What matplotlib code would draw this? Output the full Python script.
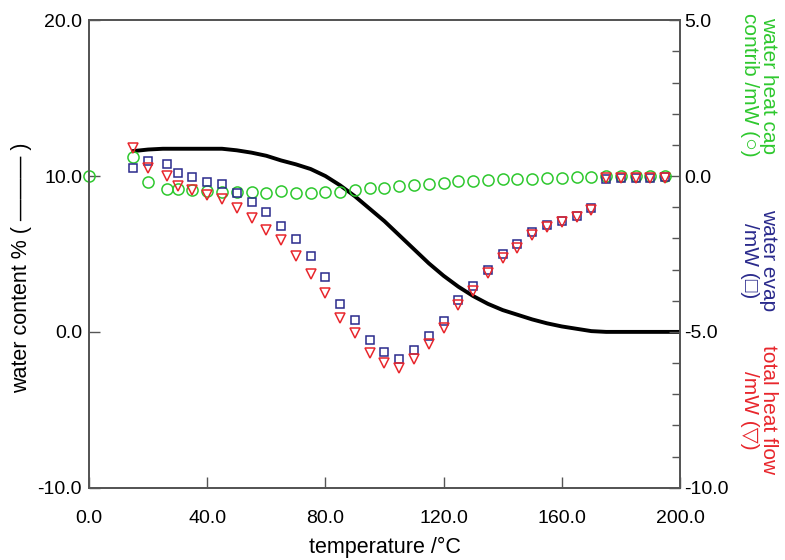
import matplotlib.pyplot as plt
from matplotlib.ticker import MultipleLocator

plt.rcParams['font.family'] = ['Liberation Sans', 'DejaVu Sans']
plt.rcParams['axes.unicode_minus'] = False

# temperatures of the heat flow readings
temps = [15, 20, 26.5, 30, 35, 40, 45, 50, 55, 60, 65, 70, 75, 80, 85, 90, 95,
         100, 105, 110, 115, 120, 125, 130, 135, 140, 145, 150, 155, 160, 165,
         170, 175, 180, 185, 190, 195]

# water heat capacity contribution (mW), first reading at 0 degC
heat_cap_temps = [0] + temps
heat_cap = [0.0, 0.62, -0.2, -0.41, -0.41, -0.45, -0.47, -0.52, -0.52, -0.52,
            -0.56, -0.47, -0.54, -0.54, -0.5, -0.5, -0.45, -0.4, -0.38, -0.32,
            -0.3, -0.27, -0.21, -0.16, -0.15, -0.13, -0.11, -0.08, -0.08, -0.05,
            -0.05, -0.02, -0.02, 0.0, 0.0, 0.0, 0.0, 0.0]

# water evaporation (mW)
evap = [0.27, 0.48, 0.39, 0.09, -0.04, -0.18, -0.24, -0.53, -0.83, -1.16,
        -1.61, -2.01, -2.58, -3.25, -4.11, -4.61, -5.27, -5.63, -5.86, -5.58,
        -5.13, -4.65, -3.97, -3.54, -3.0, -2.5, -2.17, -1.8, -1.58, -1.44,
        -1.27, -1.04, -0.08, -0.05, -0.05, -0.05, -0.03]

# total heat flow (mW)
total = [0.89, 0.27, 0.0, -0.32, -0.45, -0.61, -0.74, -1.04, -1.34, -1.72,
         -2.06, -2.55, -3.14, -3.75, -4.57, -5.02, -5.67, -5.99, -6.15, -5.88,
         -5.4, -4.86, -4.13, -3.7, -3.12, -2.62, -2.3, -1.88, -1.63, -1.47,
         -1.31, -1.08, -0.05, -0.05, -0.05, -0.05, -0.05]

# water content curve (%)
wc_temps = [15, 20, 25, 30, 35, 40, 45, 50, 55, 60, 65, 70, 75, 80, 85, 90, 95,
            100, 105, 110, 115, 120, 125, 130, 135, 140, 145, 150, 155, 160,
            165, 170, 175, 180, 185, 190, 195, 200]
water_content = [11.6, 11.7, 11.75, 11.75, 11.75, 11.75, 11.75, 11.65, 11.5,
                 11.3, 11.0, 10.75, 10.45, 10.0, 9.4, 8.7, 7.9, 7.1, 6.2, 5.3,
                 4.4, 3.6, 2.9, 2.3, 1.8, 1.4, 1.1, 0.8, 0.55, 0.35, 0.2, 0.05,
                 0.0, 0.0, 0.0, 0.0, 0.0, 0.0]

green = '#2ec82e'
blue = '#2a2a8c'
red = '#e8262c'
fs = 14      # tick labels
lfs = 15.5   # axis titles

fig = plt.figure(figsize=(7.85, 5.6), dpi=100)
ax = fig.add_axes([0.1134, 0.129, 0.7528, 0.835])
ax2 = ax.twinx()

ax.plot(wc_temps, water_content, color='black', lw=2.8, zorder=3)

ax2.plot(heat_cap_temps, heat_cap, 'o', ms=8, mfc='none', mec=green, mew=1.1,
         clip_on=False)
ax2.plot(temps, evap, 's', ms=5.5, mfc='none', mec=blue, mew=1.1, clip_on=False)
ax2.plot(temps, total, 'v', ms=7, mfc='none', mec=red, mew=1.1, clip_on=False)

ax.set_xlim(0, 200)
ax.set_ylim(-10, 20)
ax2.set_ylim(-10, 5)

ax.xaxis.set_major_locator(MultipleLocator(40))
ax.yaxis.set_major_locator(MultipleLocator(10))
ax2.yaxis.set_major_locator(MultipleLocator(5))
ax2.yaxis.set_minor_locator(MultipleLocator(1))
ax.xaxis.set_major_formatter('{x:.1f}')
ax.yaxis.set_major_formatter('{x:.1f}')
ax2.yaxis.set_major_formatter('{x:.1f}')

ax.tick_params(axis='both', direction='in', length=8, width=1, labelsize=fs,
               color='#555555')
ax.tick_params(axis='x', pad=16)
ax.tick_params(axis='y', pad=5)
ax2.tick_params(axis='y', which='major', direction='in', length=8, width=1,
                labelsize=fs, color='#555555', pad=3)
ax2.tick_params(axis='y', which='minor', direction='in', length=6, width=1,
                color='#555555')

for a in (ax, ax2):
    for s in a.spines.values():
        s.set_color('#555555')
        s.set_linewidth(1.3)

ax.set_xlabel('temperature /°C', fontsize=lfs)
ax.xaxis.set_label_coords(0.5, -0.106)
ax.set_ylabel('water content % ( \u2014\u2014\u2014 )', fontsize=lfs)
ax.yaxis.set_label_coords(-0.097, 0.47)

# colour-coded labels for the three heat flow series
fig.text(0.967, 0.848, 'water heat cap\ncontrib /mW (\u25cb)', rotation=-90,
         color=green, fontsize=15, ha='center', va='center', linespacing=1.05)
fig.text(0.967, 0.535, 'water evap\n/mW (\u25a1)', rotation=-90,
         color=blue, fontsize=15, ha='center', va='center', linespacing=1.05)
fig.text(0.967, 0.268, 'total heat flow\n/mW (\u25bd)', rotation=-90,
         color=red, fontsize=15, ha='center', va='center', linespacing=1.05)

fig.savefig('out.png', dpi=100)
